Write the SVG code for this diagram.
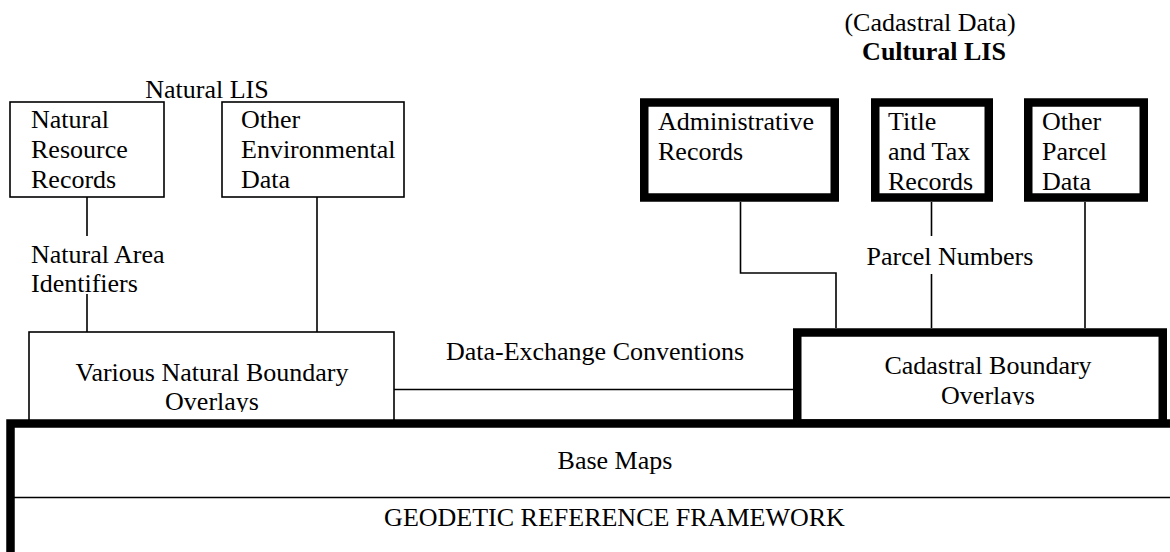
<svg xmlns="http://www.w3.org/2000/svg" width="1170" height="552" viewBox="0 0 1170 552">
  <style>
    text { font-family: "Liberation Serif", "Times New Roman", serif; font-size: 26px; fill: #000; }
    .mid { text-anchor: middle; }
    .bold { font-weight: bold; }
    .thin { fill: #fff; stroke: #000; stroke-width: 1.6; }
    .heavy { fill: #fff; stroke: #000; stroke-width: 8.5; }
    .wire { fill: none; stroke: #000; stroke-width: 1.6; }
  </style>
  <defs>
    <clipPath id="clipVarious"><rect x="29" y="332" width="365" height="80"/></clipPath>
    <clipPath id="clipCadastral"><rect x="801" y="336" width="358" height="69"/></clipPath>
  </defs>
  <rect width="1170" height="552" fill="#fff"/>

  <!-- headings -->
  <g id="natural-lis-title">
    <text class="mid" x="207" y="98">Natural LIS</text>
  </g>
  <g id="cultural-lis-title">
    <text class="mid" x="930" y="31">(Cadastral Data)</text>
    <text class="mid bold" x="934" y="60">Cultural LIS</text>
  </g>

  <!-- connectors -->
  <g id="connectors">
    <path class="wire" d="M87 197V236M87 294V332"/>
    <path class="wire" d="M317 197V332"/>
    <path class="wire" d="M740.5 202V273H836V328"/>
    <path class="wire" d="M931.5 202V236M931.5 274V328"/>
    <path class="wire" d="M1085 202V328"/>
    <path class="wire" d="M394 389.5H793"/>
    <text x="31" y="263">Natural Area</text>
    <text x="31" y="292">Identifiers</text>
    <text class="mid" x="950" y="265">Parcel Numbers</text>
    <text class="mid" x="595" y="360">Data-Exchange Conventions</text>
  </g>

  <!-- natural records -->
  <g id="natural-resource-records">
    <rect class="thin" x="10" y="102" width="154" height="95"/>
    <text x="31" y="128">Natural</text>
    <text x="31" y="158">Resource</text>
    <text x="31" y="188">Records</text>
  </g>
  <g id="other-environmental-data">
    <rect class="thin" x="222" y="102" width="182" height="95"/>
    <text x="241" y="128">Other</text>
    <text x="241" y="158">Environmental</text>
    <text x="241" y="188">Data</text>
  </g>

  <!-- parcel records -->
  <g id="administrative-records">
    <rect class="heavy" x="644.25" y="102.5" width="190.5" height="95"/>
    <text x="658" y="130">Administrative</text>
    <text x="658" y="160">Records</text>
  </g>
  <g id="title-and-tax-records">
    <rect class="heavy" x="875.25" y="102.5" width="113.5" height="95"/>
    <text x="888" y="130">Title</text>
    <text x="888" y="160">and Tax</text>
    <text x="888" y="190">Records</text>
  </g>
  <g id="other-parcel-data">
    <rect class="heavy" x="1028.25" y="102.5" width="115.5" height="95"/>
    <text x="1042" y="130">Other</text>
    <text x="1042" y="160">Parcel</text>
    <text x="1042" y="190">Data</text>
  </g>

  <!-- overlays -->
  <g id="natural-boundary-overlays">
    <rect class="thin" x="29" y="332" width="365" height="100"/>
    <g clip-path="url(#clipVarious)">
      <text class="mid" x="212" y="381">Various Natural Boundary</text>
      <text class="mid" x="212" y="410">Overlays</text>
    </g>
  </g>
  <g id="cadastral-boundary-overlays">
    <rect class="heavy" x="797.25" y="332.5" width="365.5" height="91"/>
    <g clip-path="url(#clipCadastral)">
      <text class="mid" x="988" y="374">Cadastral Boundary</text>
      <text class="mid" x="988" y="404">Overlays</text>
    </g>
  </g>

  <!-- foundation layers -->
  <g id="base-maps">
    <rect class="heavy" x="10.5" y="423.5" width="1200" height="200"/>
    <text class="mid" x="615" y="469">Base Maps</text>
  </g>
  <g id="geodetic-reference-framework">
    <path class="wire" d="M14 497.5H1170" stroke-width="2"/>
    <text class="mid" x="614.5" y="526">GEODETIC REFERENCE FRAMEWORK</text>
  </g>
</svg>
